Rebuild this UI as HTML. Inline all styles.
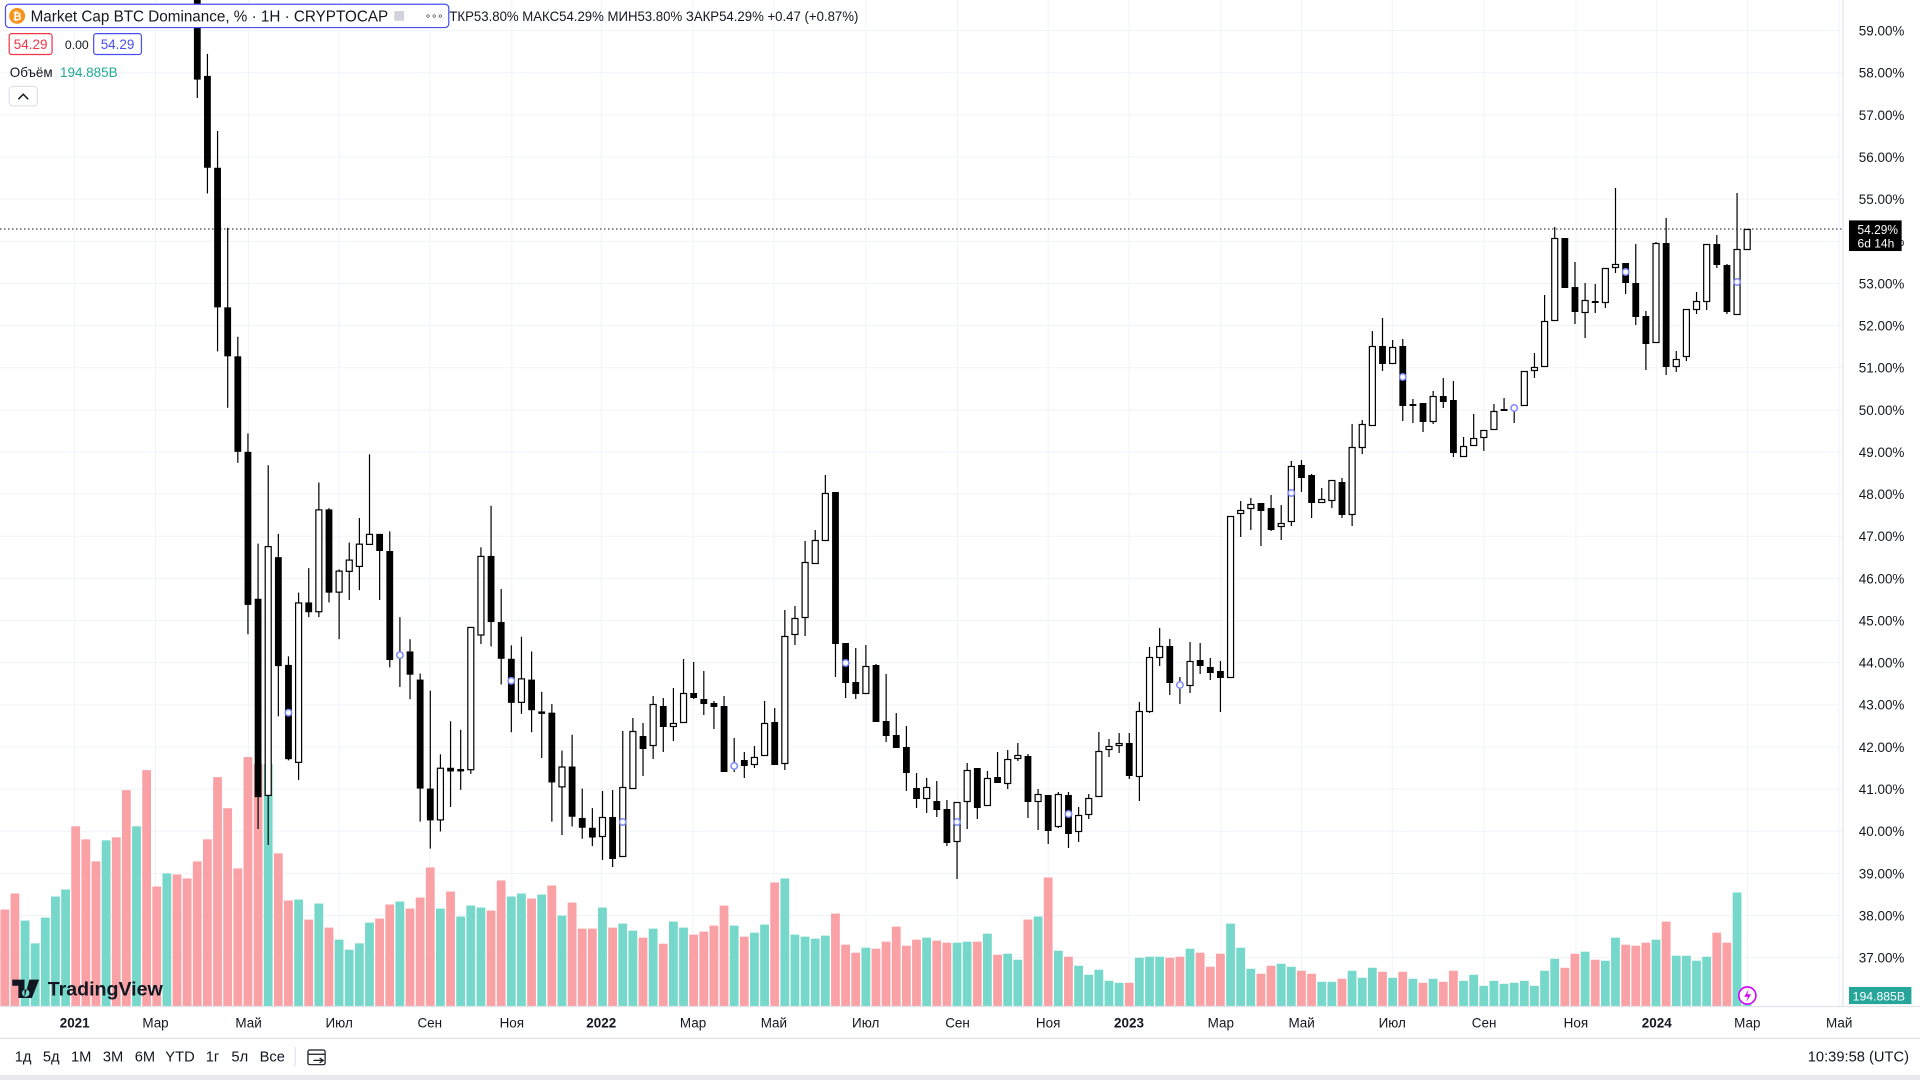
<!DOCTYPE html>
<html><head><meta charset="utf-8"><style>
html,body{margin:0;padding:0;background:#fff;overflow:hidden}
svg{display:block;font-family:"Liberation Sans",sans-serif}
</style></head><body>
<svg id="s" xmlns="http://www.w3.org/2000/svg" width="1920" height="1080" viewBox="0 0 1920 1080">
<rect width="1920" height="1080" fill="#fff"/>
<g id="grid"></g>
<g id="vol"></g>
<line x1="0" y1="229" x2="1843" y2="229" stroke="#131722" stroke-width="1" stroke-dasharray="1.5 2.5"/>
<g id="cdl"></g>
<g transform="scale(1.22449)" font-size="11" fill="#131722">
  <line x1="1505" y1="0" x2="1505" y2="822" stroke="#e0e3eb"/>
  <line x1="0" y1="822" x2="1568" y2="822" stroke="#e0e3eb"/>
  <line x1="0" y1="848" x2="1568" y2="848" stroke="#e0e3eb"/>
  <rect x="0" y="878" width="1568" height="4" fill="#e6e8ee"/>
  <g id="plab"></g>
  <g id="tlab"></g>
  <!-- header -->
  <rect x="4.5" y="3.5" width="362" height="19" rx="3" fill="#fff" stroke="#4a4ff0"/>
  <circle cx="14" cy="13" r="6.5" fill="#f7931a"/>
  <text x="14" y="16.5" font-size="9" fill="#fff" text-anchor="middle" font-weight="bold">₿</text>
  <text x="25" y="17.5" font-size="13" textLength="292" lengthAdjust="spacingAndGlyphs">Market Cap BTC Dominance, % · 1H · CRYPTOCAP</text>
  <rect x="322" y="9" width="8" height="8" fill="#d1d4dc"/>
  <text x="347" y="16" font-size="8">∘∘∘</text>
  <text x="367" y="17" font-size="11" textLength="334" lengthAdjust="spacingAndGlyphs">ТКР53.80%  МАКС54.29%  МИН53.80%  ЗАКР54.29%  +0.47 (+0.87%)</text>
  <rect x="7.5" y="27.5" width="35" height="17" rx="2" fill="#fff" stroke="#f23645"/>
  <text x="25" y="40" text-anchor="middle" fill="#f23645">54.29</text>
  <text x="53" y="40" font-size="10">0.00</text>
  <rect x="76.5" y="27.5" width="39" height="17" rx="2" fill="#fff" stroke="#4a4ff0"/>
  <text x="96" y="40" text-anchor="middle" fill="#4a4ff0">54.29</text>
  <text x="8" y="63">Объём</text>
  <text x="49" y="63" fill="#22ab94">194.885B</text>
  <rect x="7.5" y="70.5" width="23" height="16" rx="3" fill="#fff" stroke="#e0e3eb"/>
  <path d="M15 81 L19 77 L23 81" fill="none" stroke="#131722" stroke-width="1.2"/>
  <!-- price labels -->
  <rect x="1510" y="180" width="43" height="25" fill="#000"/>
  <text x="1517" y="191" fill="#fff" font-size="10.5" textLength="33" lengthAdjust="spacingAndGlyphs">54.29%</text>
  <text x="1517" y="202" fill="#fff" font-size="10" textLength="30" lengthAdjust="spacingAndGlyphs">6d 14h</text>
  <rect x="1510" y="806" width="51" height="14" fill="#26a69a"/>
  <text x="1513" y="817" fill="#fff" font-size="10">194.885B</text>
  <circle cx="1427" cy="813" r="7" fill="#fff" stroke="#d500f9" stroke-width="1.3"/>
  <path d="M1428 808 L1424.5 814 L1427.5 814 L1426 818.5 L1430 812 L1427 812 Z" fill="#d500f9"/>
  <!-- logo -->
  <path d="M10 800 H20 V815 H15 V805 H10 Z M21 808 a3 3 0 1 0 0.1 0 Z M24 800 H32 L26 815 H20 Z" fill="#131722"/>
  <text x="39" y="813" font-size="16" font-weight="bold">TradingView</text>
  <!-- toolbar -->
  <g font-size="12">
  <text x="12" y="867">1д</text><text x="35" y="867">5д</text><text x="58" y="867">1М</text>
  <text x="84" y="867">3М</text><text x="110" y="867">6М</text><text x="135" y="867">YTD</text>
  <text x="168" y="867">1г</text><text x="189" y="867">5л</text><text x="212" y="867">Все</text>
  <text x="1559" y="867" text-anchor="end">10:39:58 (UTC)</text>
  </g>
  <line x1="241" y1="855" x2="241" y2="871" stroke="#e0e3eb"/>
  <rect x="251.5" y="857.5" width="14" height="12" rx="1.5" fill="none" stroke="#131722"/>
  <line x1="251.5" y1="861" x2="265.5" y2="861" stroke="#131722"/>
  <path d="M256 866 h8 M261 864 l3 2 l-3 2" fill="none" stroke="#131722"/>
</g>
</svg>
<script>
var NS="http://www.w3.org/2000/svg";
function el(p,t,a,txt){var e=document.createElementNS(NS,t);for(var k in a)e.setAttribute(k,a[k]);if(txt!==undefined)e.textContent=txt;p.appendChild(e);return e;}
var S=1.22449;
function Y(p){return 30.6+(59-p)*42.14;}
var grid=document.getElementById('grid'),plab=document.getElementById('plab'),tlab=document.getElementById('tlab');
for(var p=59;p>=37;p--){var y=Y(p);el(grid,'line',{x1:0,x2:1843,y1:y,y2:y,stroke:'#f0f3fa'});
 el(plab,'text',{x:1518,y:y/S+4},p.toFixed(2)+'%');}
var tl=[[61,'2021',1],[127,'Мар'],[203,'Май'],[277,'Июл'],[351,'Сен'],[418,'Ноя'],[491,'2022',1],[566,'Мар'],[632,'Май'],[707,'Июл'],[782,'Сен'],[856,'Ноя'],[922,'2023',1],[997,'Мар'],[1063,'Май'],[1137,'Июл'],[1212,'Сен'],[1287,'Ноя'],[1353,'2024',1],[1427,'Мар'],[1502,'Май']];
tl.forEach(function(t){el(grid,'line',{x1:t[0]*S,x2:t[0]*S,y1:0,y2:1007,stroke:'#f0f3fa'});
 var a={x:t[0],y:839,'text-anchor':'middle'};if(t[2])a['font-weight']='bold';el(tlab,'text',a,t[1]);});
var v1=[[507,'p'],[459,'p'],[540,'t'],[608,'t'],[531,'t'],[468,'t'],[447,'t'],[258,'p'],[297,'p'],[363,'p'],[300,'t'],[291,'p'],[150,'p'],[258,'t'],[90,'p'],[438,'p'],[399,'t'],[402,'p'],[414,'p'],[363,'p'],[297,'p'],[111,'p'],[204,'p'],[384,'p'],[51,'p'],[72,'p'],[72,'t'],[339,'p'],[480,'p'],[477,'t'],[537,'p'],[489,'t'],[561,'p'],[597,'t'],[627,'t'],[608,'t'],[546,'t'],[534,'p'],[492,'p'],[483,'t'],[504,'p'],[471,'p'],[381,'p'],[504,'t'],[453,'p'],[528,'t'],[495,'t'],[501,'t'],[510,'p'],[420,'p'],[468,'t'],[459,'t'],[474,'p'],[462,'t'],[435,'p'],[525,'t'],[486,'p'],[564,'p'],[564,'p'],[501,'t'],[561,'p'],[549,'t'],[570,'t'],[591,'p'],[564,'t'],[609,'p'],[543,'t'],[561,'t'],[582,'p'],[573,'p'],[555,'p'],[495,'p'],[555,'t'],[588,'p'],[576,'t'],[552,'t'],[426,'p'],[414,'t'],[582,'t'],[588,'t'],[594,'t'],[585,'t'],[519,'p'],[612,'p'],[636,'p'],[621,'t'],[624,'p'],
[603,'p'],[558,'p'],[615,'p'],[597,'p'],[591,'t'],[600,'p'],[606,'p'],[606,'t'],[603,'t'],[603,'p'],[579,'t'],[642,'p'],[639,'t'],[657,'t'],[537,'p'],[528,'t'],[411,'p'],[630,'t'],[648,'p'],[675,'t'],[702,'t'],[687,'t'],[720,'t'],[726,'t'],[726,'p'],[651,'t'],[648,'t'],[648,'t'],[651,'p'],[648,'p'],[624,'t'],[636,'p'],[678,'p'],[639,'p'],[549,'t'],[621,'t'],[684,'t'],[699,'p'],[675,'p'],[669,'t'],[678,'t'],[690,'p'],[699,'p'],[723,'t'],[723,'t'],[714,'p'],[690,'t'],[711,'t'],[681,'t'],[693,'p'],[711,'t'],[693,'p'],[714,'t'],[726,'p'],[714,'t'],[723,'p'],[690,'p'],[720,'t'],[702,'t'],[735,'t'],[720,'t'],[729,'t'],[726,'t'],[720,'t'],[735,'t'],[690,'t'],[654,'t'],[681,'p'],[639,'p'],[633,'t'],[657,'p'],[660,'t'],[591,'t'],[612,'p'],[615,'p'],[606,'p'],[597,'t'],[543,'p'],[645,'t'],[645,'t'],[660,'t'],[648,'t'],[576,'p'],[606,'p'],[456,'t'],[790,'t']];
var vol=document.getElementById('vol');
v1.forEach(function(b,k){var cx=4.8+k*10.13,top=740+b[0]/2.99;
 el(vol,'rect',{x:cx-4.4,y:top,width:8.8,height:1007-top,fill:b[1]=='p'?'#faa1a6':'#76d8ca'});});
var cs=[[-10,65,-10,80,'b'],[62,137,44,158,'b'],[137,251,107,287,'b'],[251,291,186,333,'b'],[291,369,275,378,'b'],[369,494,354,518,'b'],[489,651,444,677,'b'],[446,650,380,690,'w'],[455,544,436,585,'b'],[543,620,536,621,'b'],[492,623,484,637,'w'],[492,500,464,504,'b'],[416,500,394,504,'w'],[416,484,415,492,'b'],[466,484,465,522,'w'],[457,467,443,490,'w'],[444,463,423,482,'w'],[436,445,371,445,'w'],[436,450,436,490,'b'],[450,539,434,545,'b'],[534,536,504,561,'b'],[532,551,522,571,'b'],[555,644,550,671,'b'],[644,670,564,693,'b'],[627,670,616,679,'w'],[627,630,589,659,'b'],[628,630,596,645,'b'],[512,629,512,632,'w'],[454,519,447,526,'w'],[454,508,413,528,'b'],[508,538,481,559,'b'],[538,574,527,598,'b'],[554,574,520,583,'w'],[555,580,532,598,'b'],[581,583,565,619,'b'],[582,639,575,671,'b'],[626,643,613,682,'w'],[626,667,600,675,'b'],[668,676,644,685,'b'],[676,684,660,691,'b']];
cs.forEach(function(c){for(var i=0;i<4;i++)c[i]*=S;});
var c2=[[817,837,791,860,'w'],[817,859,790,867,'b'],[787,857,731,857,'w'],[731,789,718,789,'w'],[736,749,723,776,'b'],[704,746,696,759,'w'],[706,727,698,752,'b'],[723,727,688,741,'w'],[693,723,659,723,'w'],[693,698,662,699,'b'],[699,704,671,715,'b'],[703,707,701,729,'b'],[706,772,696,772,'b'],[765,767,738,772,'b'],[760,766,752,778,'b'],[757,765,746,768,'w'],[723,756,701,756,'w'],[722,765,708,765,'b'],[636,764,610,770,'w'],[618,635,606,645,'w'],[562,618,541,636,'w'],[540,564,530,564,'w'],[493,541,475,541,'w'],[492,644,492,677,'b'],[643,683,643,698,'b'],[682,694,648,699,'b'],[666,694,645,694,'w'],[665,722,664,722,'b'],[721,736,674,742,'b'],[735,748,713,748,'b'],[747,773,726,791,'b'],[788,799,773,808,'b'],[787,799,778,813,'w'],[801,810,781,817,'b'],[809,843,800,846,'b'],[802,842,802,879,'w'],[770,802,763,829,'w'],[768,808,768,819,'b'],[778,806,771,806,'w'],[777,783,752,783,'b'],[759,784,750,789,'w'],[755,759,743,761,'w'],[756,802,754,818,'b'],[794,802,789,830,'w'],[795,831,795,844,'b'],[794,827,792,828,'w'],[795,834,792,848,'b'],[815,832,807,842,'w'],[798,815,794,819,'w'],[751,797,732,797,'w'],[746,750,739,757,'w'],[743,746,733,753,'w'],[743,776,733,779,'b'],[711,777,702,801,'w'],[657,712,647,713,'w'],[646,658,628,666,'w'],[646,683,639,695,'b'],[684,686,677,704,'b'],[661,686,642,693,'w'],[660,666,643,674,'b'],[667,673,658,680,'b'],[671,678,661,712,'b'],[516,678,516,678,'w'],[510,514,501,537,'w'],[504,509,498,530,'w'],[503,511,503,546,'b'],[508,530,495,531,'b'],[523,527,505,540,'w'],[466,522,461,526,'w'],[465,478,460,492,'b'],[475,503,474,518,'b'],[499,503,488,503,'w'],[480,501,480,508,'w'],[482,515,478,518,'b'],[447,515,424,526,'w'],[424,448,420,454,'w'],[346,426,331,426,'w'],[346,364,318,371,'b'],[347,364,340,364,'w'],[346,406,339,421,'b'],[404,406,399,423,'b'],[403,422,403,432,'b'],[396,422,391,424,'w'],[396,402,378,408,'b'],[400,453,381,457,'b'],[446,457,437,457,'w'],[438,446,414,446,'w'],[430,438,430,451,'w'],[411,430,404,430,'w'],[409,411,398,411,'b'],[407,409,407,423,'b'],[371,406,371,406,'w'],[367,371,353,378,'w'],[321,367,295,367,'w'],[238,321,227,321,'w'],[238,288,238,288,'b'],[287,312,262,324,'b'],[300,313,283,338,'w'],[301,303,284,313,'b'],[268,303,268,308,'w'],[264,268,188,273,'w'],[263,283,263,294,'b'],[283,317,244,325,'b'],[316,344,311,370,'b'],[243,343,242,343,'w'],[243,367,218,375,'b'],[359,367,351,372,'w'],[309,357,309,361,'w'],[301,310,292,314,'w'],[244,302,244,310,'w'],[244,265,235,268,'b'],[265,312,264,314,'b'],[249,315,193,315,'w'],[229,250,229,250,'w']];
cs=cs.concat(c2);
var marks={10:582*S,21:535*S,32:556*S,43:822,54:766,65:663,76:822,87:814,98:685,109:493,120:377,131:408,142:272,153:282};
var cg=document.getElementById('cdl');
cs.forEach(function(c,i){var n=i+1,x=197.3+i*10.13;
 el(cg,'line',{x1:x,x2:x,y1:c[2],y2:c[3],stroke:'#000','stroke-width':1.2});
 var h=Math.max(c[1]-c[0],1.5);
 if(c[4]=='b')el(cg,'rect',{x:x-3.4,y:c[0],width:6.8,height:h,fill:'#000'});
 else el(cg,'rect',{x:x-3,y:c[0]+0.5,width:6,height:Math.max(h-1,1),fill:'#fff',stroke:'#000','stroke-width':1.2});
 if(marks[n])el(cg,'circle',{cx:x,cy:marks[n],r:3.2,fill:'#fff',stroke:'#7b88ff','stroke-width':1.5});
});
</script>
</body></html>
